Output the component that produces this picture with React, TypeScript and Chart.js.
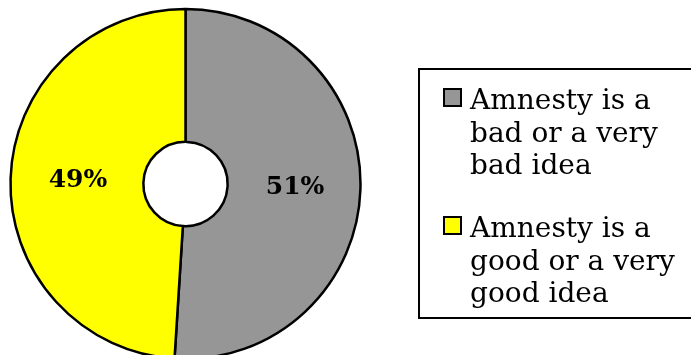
import React, { useEffect, useRef } from "react";
import { Chart, registerables } from "chart.js";

Chart.register(...registerables);

const categories: string[][] = [
  ["Amnesty is a", "bad or a very", "bad idea"],
  ["Amnesty is a", "good or a very", "good idea"],
];
const values: number[] = [51, 49];
const colors: string[] = ["#969696", "#FFFF00"];

const W = 691;
const H = 368;

const sliceLabels = {
  id: "sliceLabels",
  afterDatasetsDraw(chart: any) {
    const ctx = chart.ctx;
    const meta = chart.getDatasetMeta(0);
    ctx.save();
    ctx.font = "bold 25px 'DejaVu Serif'";
    ctx.fillStyle = "#000";
    ctx.textAlign = "center";
    ctx.textBaseline = "middle";
    meta.data.forEach((arc: any, i: number) => {
      const p = arc.tooltipPosition();
      ctx.fillText(values[i] + "%", p.x + 1, p.y);
    });
    ctx.restore();
  },
};

const boxLegend = {
  id: "boxLegend",
  afterDraw(chart: any) {
    const ctx = chart.ctx;
    ctx.save();
    ctx.lineWidth = 2;
    ctx.strokeStyle = "#000";
    ctx.strokeRect(419, 69, 300, 249);
    ctx.font = "28px 'DejaVu Serif'";
    ctx.textAlign = "left";
    ctx.textBaseline = "alphabetic";
    const lineH = 32.5;
    const firstBase = [109, 237];
    categories.forEach((lines, i) => {
      const base = firstBase[i];
      ctx.fillStyle = colors[i];
      ctx.fillRect(444, base - 20, 17, 17);
      ctx.strokeStyle = "#000";
      ctx.lineWidth = 2;
      ctx.strokeRect(444, base - 20, 17, 17);
      ctx.fillStyle = "#000";
      lines.forEach((t, j) => ctx.fillText(t, 470, base + j * lineH));
    });
    ctx.restore();
  },
};

export default function App() {
  const ref = useRef<HTMLCanvasElement | null>(null);
  useEffect(() => {
    if (!ref.current) return;
    const chart = new Chart(ref.current, {
      type: "doughnut",
      data: {
        labels: categories.map((c) => c.join(" ")),
        datasets: [
          {
            data: values,
            backgroundColor: colors,
            borderColor: "#000",
            borderWidth: 2.5,
          },
        ],
      },
      options: {
        responsive: false,
        animation: false,
        radius: 175,
        cutout: 44,
        layout: { padding: { left: 0, right: W - 371, top: 0, bottom: 0 } },
        plugins: {
          legend: { display: false },
          tooltip: { enabled: false },
        },
      } as any,
      plugins: [sliceLabels, boxLegend],
    });
    return () => chart.destroy();
  }, []);
  return (
    <div
      style={{
        position: "fixed",
        left: 0,
        top: 0,
        width: W,
        height: 355,
        overflow: "hidden",
        background: "#fff",
      }}
    >
      <canvas ref={ref} width={W} height={H} style={{ display: "block" }} />
    </div>
  );
}
